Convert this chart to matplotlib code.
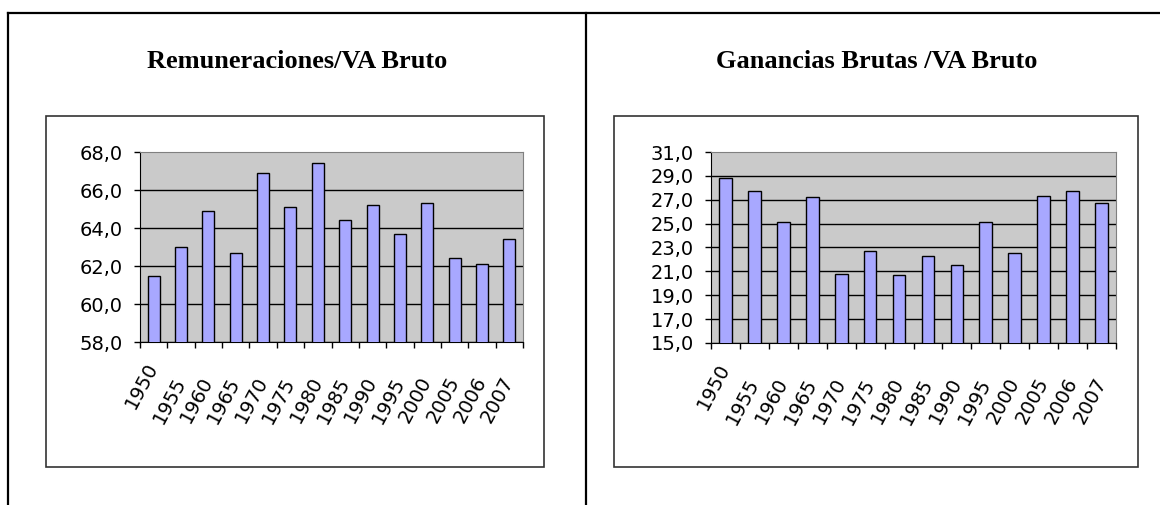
import numpy as np
import matplotlib
matplotlib.use('Agg')
import matplotlib.pyplot as plt
from matplotlib.patches import Rectangle
from matplotlib.lines import Line2D
from matplotlib.transforms import ScaledTranslation

years = ['1950', '1955', '1960', '1965', '1970', '1975', '1980',
         '1985', '1990', '1995', '2000', '2005', '2006', '2007']
remuneraciones = [61.5, 63.0, 64.9, 62.7, 66.9, 65.1, 67.4,
                  64.4, 65.2, 63.7, 65.3, 62.4, 62.1, 63.4]
ganancias = [28.8, 27.7, 25.1, 27.2, 20.8, 22.7, 20.7,
             22.3, 21.5, 25.1, 22.5, 27.3, 27.7, 26.7]

W, H = 1160, 505
fig = plt.figure(figsize=(W / 100, H / 100), dpi=100)


def fx(px):
    return px / W


def fy(py):
    return 1 - py / H


# page frame lines
fig.add_artist(Line2D([fx(8), 1.0], [fy(13), fy(13)], color='black', lw=1.6))
fig.add_artist(Line2D([fx(8), fx(8)], [fy(13), 0], color='black', lw=1.6))
fig.add_artist(Line2D([fx(586), fx(586)], [fy(13), 0], color='black', lw=1.6))

# chart boxes
for x0, x1 in [(46, 544), (614, 1138)]:
    fig.add_artist(Rectangle((fx(x0), fy(467)), fx(x1 - x0), (467 - 116) / H,
                             facecolor='white', edgecolor='#333333', lw=1.2,
                             transform=fig.transFigure, zorder=0))

fig.text(fx(297), fy(68), 'Remuneraciones/VA Bruto', ha='center', va='baseline',
         family='Liberation Serif', weight='bold', fontsize=19)
fig.text(fx(877), fy(68), 'Ganancias Brutas /VA Bruto', ha='center', va='baseline',
         family='Liberation Serif', weight='bold', fontsize=19)

panels = [
    (remuneraciones, (140, 523, 152, 342), (58, 68)),
    (ganancias, (711, 1116, 152, 343), (15, 31)),
]

x = np.arange(len(years))
for values, (l, r, t, b), (ymin, ymax) in panels:
    ax = fig.add_axes([fx(l), fy(b), fx(r - l), (b - t) / H])
    ax.set_facecolor('#CACACA')
    ax.bar(x, values, width=0.44, color='#A8A8FF', edgecolor='black', linewidth=1.0, zorder=3)
    ax.set_xlim(-0.5, len(years) - 0.5)
    ax.set_ylim(ymin, ymax)

    yt = np.arange(ymin, ymax + 0.1, 2)
    ax.set_yticks(yt)
    ax.set_yticklabels([f'{v:.1f}'.replace('.', ',') for v in yt],
                       family='DejaVu Sans', fontsize=14)
    ax.tick_params(axis='y', direction='out', length=4.5, width=1, pad=8, color='black')

    ax.set_xticks(np.arange(-0.5, len(years), 1))
    ax.set_xticklabels([])
    ax.tick_params(axis='x', which='major', direction='out', length=4.5, width=1, color='black')
    ax.set_xticks(x, minor=True)
    ax.set_xticklabels(years, minor=True, rotation=62, ha='right', va='center',
                       rotation_mode='anchor', family='DejaVu Sans', fontsize=14)
    ax.tick_params(axis='x', which='minor', length=0, pad=26)

    ax.yaxis.grid(True, color='black', lw=1.0)
    ax.get_ygridlines()[-1].set_visible(False)
    ax.set_axisbelow(True)

    ax.spines['left'].set_color('black')
    ax.spines['bottom'].set_color('black')
    ax.spines['top'].set_color('#808080')
    ax.spines['right'].set_color('#808080')

    first = ax.get_xticklabels(minor=True)[0]
    first.set_transform(first.get_transform() + ScaledTranslation(0, 0.14, fig.dpi_scale_trans))

fig.savefig('out.png', dpi=100)
